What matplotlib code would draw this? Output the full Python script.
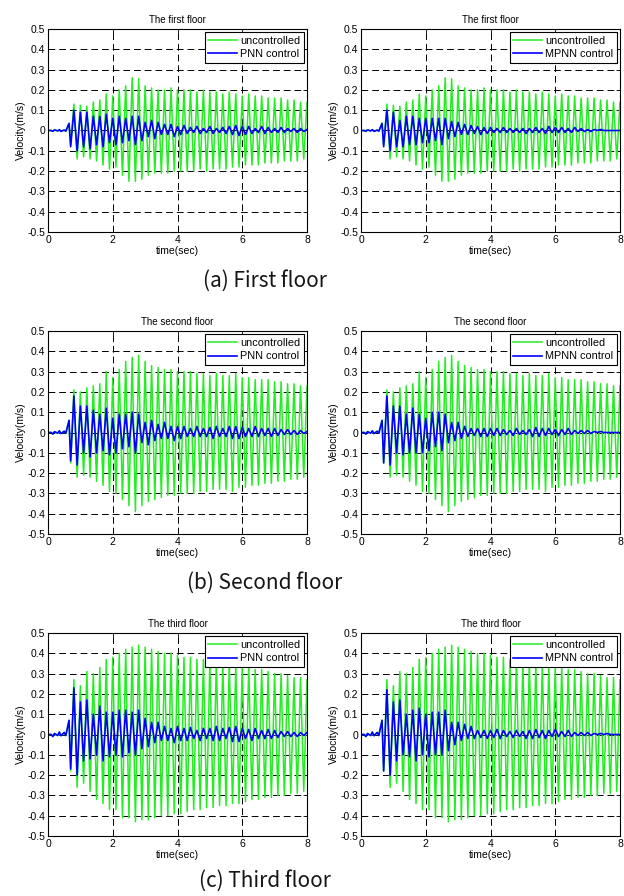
import numpy as np
import matplotlib
matplotlib.use('Agg')
from matplotlib import pyplot as plt

# time of extrema (troughs at odd tenths, peaks at even tenths)
trough_t = [0.7, 0.9, 1.1, 1.3, 1.5, 1.7, 1.9, 2.1, 2.3, 2.5, 2.7, 2.9, 3.1,
            3.3, 3.5, 3.7, 3.9, 4.1, 4.3, 4.5, 4.7, 4.9, 5.1, 5.3, 5.5, 5.7,
            5.9, 6.1, 6.3, 6.5, 6.7, 6.9, 7.1, 7.3, 7.5, 7.7, 7.9]
peak_t = [0.8, 1.0, 1.2, 1.4, 1.6, 1.8, 2.0, 2.2, 2.4, 2.6, 2.8, 3.0, 3.2,
          3.4, 3.6, 3.8, 4.0, 4.2, 4.4, 4.6, 4.8, 5.0, 5.2, 5.4, 5.6, 5.8,
          6.0, 6.2, 6.4, 6.6, 6.8, 7.0, 7.2, 7.4, 7.6, 7.8, 8.0]
pre_t = [0.0, 0.1, 0.15, 0.2, 0.3, 0.35, 0.4, 0.5, 0.55, 0.65]

# small motion before the quake arrives
pre_f1 = [0, 0, -0.004, 0.003, -0.002, 0.004, -0.004, 0.002, -0.003, 0.035]
pre_f2 = [0, 0, -0.008, 0.004, -0.003, 0.008, -0.005, 0.006, -0.004, 0.06]
pre_f3 = [0, 0, -0.010, 0.005, -0.005, 0.012, -0.006, 0.010, -0.005, 0.07]

# uncontrolled response
unc1_pk = [0.13, 0.125, 0.12, 0.14, 0.15, 0.18, 0.17, 0.20, 0.22, 0.26, 0.255, 0.22,
           0.21, 0.20, 0.20, 0.21, 0.20, 0.20, 0.20, 0.19, 0.20, 0.19, 0.19, 0.18,
           0.19, 0.18, 0.17, 0.18, 0.17, 0.17, 0.16, 0.16, 0.16, 0.15, 0.15, 0.14, 0.14]
unc1_tr = [-0.07, -0.14, -0.13, -0.14, -0.15, -0.17, -0.19, -0.18, -0.22, -0.25, -0.25,
           -0.24, -0.22, -0.21, -0.21, -0.21, -0.20, -0.20, -0.20, -0.20, -0.19, -0.20,
           -0.19, -0.19, -0.19, -0.18, -0.18, -0.17, -0.17, -0.17, -0.16, -0.16, -0.16,
           -0.15, -0.15, -0.15, -0.14]
unc2_pk = [0.21, 0.20, 0.22, 0.23, 0.24, 0.30, 0.27, 0.31, 0.35, 0.37, 0.38, 0.35,
           0.33, 0.32, 0.31, 0.31, 0.30, 0.30, 0.30, 0.29, 0.29, 0.28, 0.29, 0.28,
           0.28, 0.29, 0.27, 0.27, 0.26, 0.26, 0.26, 0.25, 0.25, 0.24, 0.24, 0.23, 0.23]
unc2_tr = [-0.15, -0.22, -0.21, -0.22, -0.24, -0.26, -0.29, -0.30, -0.33, -0.36, -0.39,
           -0.36, -0.34, -0.33, -0.32, -0.31, -0.31, -0.30, -0.30, -0.30, -0.29, -0.29,
           -0.28, -0.28, -0.28, -0.29, -0.27, -0.27, -0.26, -0.26, -0.25, -0.25, -0.24,
           -0.24, -0.23, -0.23, -0.22]
unc3_pk = [0.27, 0.24, 0.31, 0.30, 0.33, 0.37, 0.38, 0.40, 0.42, 0.43, 0.44, 0.43,
           0.42, 0.41, 0.40, 0.40, 0.39, 0.38, 0.38, 0.37, 0.37, 0.36, 0.36, 0.35,
           0.35, 0.34, 0.34, 0.33, 0.32, 0.32, 0.31, 0.30, 0.30, 0.29, 0.28, 0.28, 0.27]
unc3_tr = [-0.18, -0.26, -0.24, -0.28, -0.32, -0.34, -0.37, -0.37, -0.41, -0.41, -0.43,
           -0.42, -0.42, -0.41, -0.40, -0.40, -0.39, -0.39, -0.38, -0.37, -0.37, -0.36,
           -0.36, -0.35, -0.35, -0.34, -0.34, -0.33, -0.32, -0.32, -0.31, -0.31, -0.30,
           -0.30, -0.29, -0.29, -0.28]

# PNN controlled response
pnn1_pk = [0.10, 0.09, 0.09, 0.07, 0.07, 0.08, 0.06, 0.07, 0.06, 0.07, 0.07, 0.04,
           0.05, 0.04, 0.03, 0.03, 0.02, 0.025, 0.015, 0.02, 0.01, 0.02, 0.01, 0.015,
           0.02, 0.025, 0.02, 0.02, 0.01, 0.02, 0.015, 0.01, 0.015, 0.01, 0.01, 0.01, 0.005]
pnn1_tr = [-0.08, -0.10, -0.08, -0.09, -0.07, -0.08, -0.06, -0.07, -0.06, -0.05, -0.07,
           -0.05, -0.03, -0.04, -0.02, -0.02, -0.03, -0.02, -0.015, -0.01, -0.015, -0.01,
           -0.015, -0.01, -0.015, -0.02, -0.025, -0.02, -0.015, -0.01, -0.015, -0.01,
           -0.01, -0.01, -0.005, -0.01, -0.005]
pnn2_pk = [0.18, 0.13, 0.13, 0.11, 0.09, 0.12, 0.07, 0.09, 0.09, 0.10, 0.09, 0.05,
           0.06, 0.04, 0.05, 0.03, 0.03, 0.03, 0.02, 0.03, 0.02, 0.025, 0.03, 0.02,
           0.03, 0.03, 0.025, 0.02, 0.03, 0.02, 0.02, 0.02, 0.015, 0.015, 0.01, 0.01, 0.005]
pnn2_tr = [-0.14, -0.16, -0.10, -0.12, -0.10, -0.09, -0.11, -0.10, -0.08, -0.07, -0.10,
           -0.05, -0.06, -0.04, -0.03, -0.03, -0.04, -0.03, -0.02, -0.02, -0.02, -0.02,
           -0.03, -0.02, -0.02, -0.03, -0.03, -0.02, -0.02, -0.02, -0.015, -0.02, -0.015,
           -0.01, -0.01, -0.01, -0.005]
pnn3_pk = [0.23, 0.16, 0.17, 0.10, 0.14, 0.11, 0.11, 0.12, 0.12, 0.11, 0.12, 0.08,
           0.06, 0.06, 0.04, 0.03, 0.04, 0.03, 0.035, 0.02, 0.03, 0.03, 0.04, 0.03,
           0.035, 0.04, 0.03, 0.025, 0.03, 0.02, 0.025, 0.02, 0.015, 0.015, 0.01, 0.01, 0.01]
pnn3_tr = [-0.17, -0.20, -0.13, -0.12, -0.10, -0.13, -0.11, -0.10, -0.11, -0.09, -0.10,
           -0.07, -0.06, -0.04, -0.03, -0.03, -0.04, -0.03, -0.03, -0.02, -0.03, -0.02,
           -0.03, -0.03, -0.02, -0.035, -0.035, -0.02, -0.03, -0.02, -0.02, -0.02, -0.015,
           -0.01, -0.01, -0.01, -0.005]

# MPNN controlled response
mpnn1_pk = [0.10, 0.09, 0.05, 0.07, 0.07, 0.06, 0.06, 0.06, 0.06, 0.06, 0.045, 0.04,
            0.03, 0.025, 0.02, 0.015, 0.015, 0.01, 0.015, 0.01, 0.01, 0.01, 0.01, 0.015,
            0.01, 0.02, 0.015, 0.015, 0.01, 0.015, 0.01, 0.005, 0.005, 0.005, 0.0, 0.0, 0.0]
mpnn1_tr = [-0.08, -0.10, -0.08, -0.08, -0.07, -0.07, -0.06, -0.06, -0.05, -0.07, -0.04,
            -0.03, -0.02, -0.02, -0.015, -0.02, -0.015, -0.01, -0.01, -0.01, -0.01, -0.01,
            -0.015, -0.01, -0.01, -0.015, -0.01, -0.01, -0.01, -0.01, -0.005, -0.005,
            -0.005, 0.0, 0.0, 0.0, 0.0]
mpnn2_pk = [0.18, 0.13, 0.13, 0.09, 0.12, 0.09, 0.07, 0.10, 0.10, 0.09, 0.05, 0.05,
            0.03, 0.02, 0.02, 0.02, 0.02, 0.02, 0.015, 0.01, 0.02, 0.01, 0.015, 0.025,
            0.02, 0.02, 0.015, 0.015, 0.02, 0.01, 0.01, 0.01, 0.005, 0.005, 0.0, 0.0, 0.0]
mpnn2_tr = [-0.15, -0.16, -0.10, -0.11, -0.10, -0.10, -0.10, -0.09, -0.07, -0.09, -0.05,
            -0.04, -0.03, -0.02, -0.015, -0.02, -0.02, -0.015, -0.015, -0.01, -0.015, -0.01,
            -0.01, -0.02, -0.02, -0.015, -0.01, -0.015, -0.01, -0.01, -0.005, -0.005,
            -0.005, 0.0, 0.0, 0.0, 0.0]
mpnn3_pk = [0.22, 0.16, 0.17, 0.10, 0.12, 0.13, 0.10, 0.11, 0.11, 0.12, 0.06, 0.06,
            0.05, 0.04, 0.02, 0.02, 0.02, 0.025, 0.02, 0.015, 0.02, 0.015, 0.02, 0.025,
            0.02, 0.02, 0.025, 0.015, 0.02, 0.01, 0.01, 0.01, 0.005, 0.005, 0.005, 0.0, 0.0]
mpnn3_tr = [-0.18, -0.20, -0.13, -0.10, -0.11, -0.13, -0.10, -0.11, -0.10, -0.10, -0.08,
            -0.05, -0.03, -0.02, -0.02, -0.015, -0.02, -0.015, -0.02, -0.01, -0.015, -0.01,
            -0.02, -0.02, -0.015, -0.02, -0.01, -0.01, -0.01, -0.01, -0.005, -0.005,
            -0.005, 0.0, 0.0, 0.0, 0.0]

floor_titles = ['The first floor', 'The second floor', 'The third floor']
captions = ['(a) First floor', '(b) Second floor', '(c) Third floor']
ctrl_names = ['PNN control', 'MPNN control']
yticks = [-0.5, -0.4, -0.3, -0.2, -0.1, 0, 0.1, 0.2, 0.3, 0.4, 0.5]
ytick_labels = ['-0.5', '-0.4', '-0.3', '-0.2', '-0.1', '0', '0.1', '0.2', '0.3', '0.4', '0.5']
xticks = [0, 2, 4, 6, 8]

pre = [pre_f1, pre_f2, pre_f3]
unc = [(unc1_pk, unc1_tr), (unc2_pk, unc2_tr), (unc3_pk, unc3_tr)]
ctrl = [[(pnn1_pk, pnn1_tr), (mpnn1_pk, mpnn1_tr)],
        [(pnn2_pk, pnn2_tr), (mpnn2_pk, mpnn2_tr)],
        [(pnn3_pk, pnn3_tr), (mpnn3_pk, mpnn3_tr)]]


def build_series(pre_vals, pk, tr):
    # join pre-event wiggle with alternating trough / peak values
    t = list(pre_t)
    v = list(pre_vals)
    for i in range(len(pk)):
        t += [trough_t[i], peak_t[i]]
        v += [tr[i], pk[i]]
    return np.array(t), np.array(v)


plt.rcParams['font.family'] = ['Liberation Sans', 'DejaVu Sans']

fig = plt.figure(figsize=(6.24, 8.96), dpi=100)

W, H = 624.0, 896.0
col_left = [48, 361]
row_top = [29, 331, 633]
ax_w, ax_h = 259, 203
caption_y = [281, 583, 881]

for r in range(3):
    t_u, v_u = build_series(pre[r], *unc[r])
    for c in range(2):
        ax = fig.add_axes([col_left[c] / W, 1 - (row_top[r] + ax_h) / H, ax_w / W, ax_h / H])
        t_c, v_c = build_series(pre[r], *ctrl[r][c])
        ax.plot(t_u, v_u, color='#22ee22', lw=1.1, label='uncontrolled')
        ax.plot(t_c, v_c, color='#0000ff', lw=1.2, label=ctrl_names[c])
        ax.set_xlim(0, 8)
        ax.set_ylim(-0.5, 0.5)
        ax.set_xticks(xticks)
        ax.set_yticks(yticks)
        ax.set_yticklabels(ytick_labels)
        ax.tick_params(direction='in', length=3, width=0.6, labelsize=7.5,
                       top=True, right=True, pad=2)
        ax.grid(True, color='black', lw=0.7, ls=(0, (7, 4)))
        for s in ax.spines.values():
            s.set_linewidth(0.8)
        ax.set_title(floor_titles[r], fontsize=7, pad=4)
        ax.set_xlabel('time(sec)', fontsize=7.5, labelpad=1)
        ax.set_ylabel('Velocity(m/s)', fontsize=7.5, labelpad=1)
        leg = ax.legend(loc='upper right', fontsize=7.8, frameon=True, fancybox=False,
                        borderaxespad=0.3, handlelength=2.6, handletextpad=0.3,
                        borderpad=0.35, labelspacing=0.3)
        leg.get_frame().set_edgecolor('black')
        leg.get_frame().set_linewidth(0.8)
        leg.get_frame().set_alpha(1)
    fig.text(265 / W, 1 - caption_y[r] / H, captions[r], ha='center', va='center',
             fontsize=15, family=['Noto Sans CJK KR', 'DejaVu Sans'], color='#151515')

fig.savefig('out.png', dpi=100)
